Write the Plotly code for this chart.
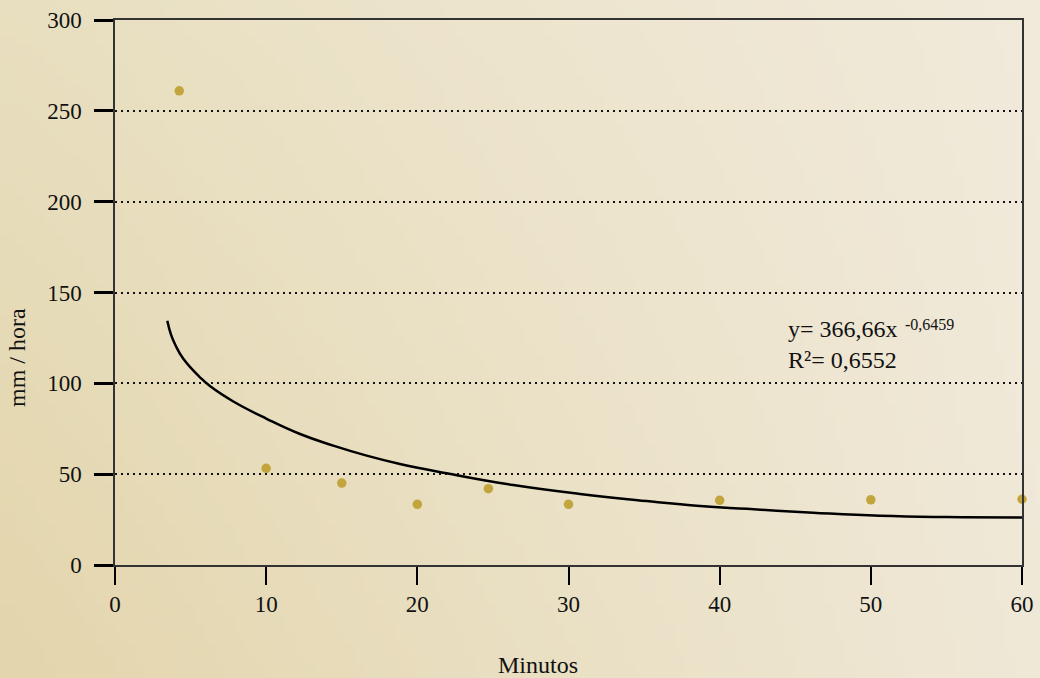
import base64
import struct
import zlib

import numpy as np
import plotly.graph_objects as go

# Measured rainfall intensity (mm/hora) against duration (minutos)
obs_minutes = [4.25, 10.0, 15.0, 20.0, 24.7, 30.0, 40.0, 50.0, 60.0]
obs_intensity = [261.0, 53.2, 45.1, 33.4, 42.0, 33.4, 35.6, 35.9, 36.2]

# Fitted trend curve, sampled along its length
trend_minutes = [3.46, 3.7, 4.0, 4.52, 5.62, 6.28, 7.83, 10.03, 12.24, 14.44, 16.65,
                 18.85, 21.94, 26.35, 30.76, 35.17, 38.7, 41.8, 46.19, 50.6, 55.0, 60.0]
trend_intensity = [134.5, 127.0, 121.0, 113.5, 103.3, 98.5, 90.0, 80.5, 72.1, 65.7, 60.2,
                   55.6, 50.5, 44.0, 39.1, 35.2, 32.5, 30.9, 28.8, 27.1, 26.4, 26.2]

x_ticks = [0, 10, 20, 30, 40, 50, 60]
y_ticks = [0, 50, 100, 150, 200, 250, 300]

equation_text = "y= 366,66x"
exponent_text = "-0,6459"
r2_text = "R²= 0,6552"

W, H = 1040, 678
ML, MR, MT, MB = 115, 18, 20, 113
PW, PH = W - ML - MR, H - MT - MB

FONT = "Liberation Serif"


def png_uri(pixels):
    h, w, _ = pixels.shape
    raw = b"".join(b"\x00" + pixels[r].tobytes() for r in range(h))

    def chunk(tag, data):
        body = tag + data
        return struct.pack(">I", len(data)) + body + struct.pack(">I", zlib.crc32(body) & 0xFFFFFFFF)

    png = (b"\x89PNG\r\n\x1a\n"
           + chunk(b"IHDR", struct.pack(">IIBBBBB", w, h, 8, 2, 0, 0, 0))
           + chunk(b"IDAT", zlib.compress(raw, 9))
           + chunk(b"IEND", b""))
    return "data:image/png;base64," + base64.b64encode(png).decode()


# Parchment-style backdrop: darker tan at lower left, pale cream at upper right
tl = np.array([232, 223, 192], float)
tr = np.array([241, 234, 219], float)
bl = np.array([227, 213, 172], float)
br = np.array([239, 232, 215], float)
gw, gh = 104, 68
u = np.linspace(0, 1, gw)[None, :, None]
v = np.linspace(0, 1, gh)[:, None, None]
grad = (1 - v) * ((1 - u) * tl + u * tr) + v * ((1 - u) * bl + u * br)
bg_uri = png_uri(np.clip(grad.round(), 0, 255).astype(np.uint8))

fig = go.Figure()

fig.add_trace(go.Scatter(
    x=trend_minutes, y=trend_intensity, mode="lines",
    line=dict(color="black", width=2.5, shape="spline", smoothing=1.3),
    hoverinfo="skip", showlegend=False,
))

fig.add_trace(go.Scatter(
    x=obs_minutes, y=obs_intensity, mode="markers",
    marker=dict(color="#c3a53d", size=9.5, line=dict(width=0)),
    cliponaxis=False, showlegend=False,
))


def px_x(p):
    return (p - ML) / PW


def px_y(p):
    return (H - MB - p) / PH


annotations = [
    dict(text=equation_text, x=px_x(786), y=px_y(329), xanchor="left", yanchor="middle",
         font=dict(family=FONT, size=24, color="#111")),
    dict(text=exponent_text, x=px_x(903), y=px_y(324), xanchor="left", yanchor="middle",
         font=dict(family=FONT, size=16, color="#111")),
    dict(text=r2_text, x=px_x(786), y=px_y(360), xanchor="left", yanchor="middle",
         font=dict(family=FONT, size=24, color="#111")),
    dict(text="Minutos", x=px_x(538), y=px_y(665), xanchor="center", yanchor="middle",
         font=dict(family=FONT, size=24, color="#111")),
    dict(text="mm / hora", x=px_x(17), y=px_y(358), xanchor="center", yanchor="middle",
         textangle=-90, font=dict(family=FONT, size=24, color="#111")),
]
for a in annotations:
    a.update(xref="paper", yref="paper", showarrow=False)

fig.update_layout(
    width=W, height=H,
    margin=dict(l=ML, r=MR, t=MT, b=MB, pad=0),
    paper_bgcolor="#ebe1c6",
    plot_bgcolor="rgba(0,0,0,0)",
    images=[dict(source=bg_uri, xref="paper", yref="paper",
                 x=-ML / PW, y=1 + MT / PH, sizex=W / PW, sizey=H / PH,
                 xanchor="left", yanchor="top", sizing="stretch", layer="below")],
    annotations=annotations,
    xaxis=dict(
        range=[0, 60], tickvals=x_ticks, ticktext=[str(t) for t in x_ticks],
        ticks="outside", ticklen=18, tickwidth=2, tickcolor="black",
        showline=True, linecolor="#333", linewidth=1.5, mirror=True,
        showgrid=False, zeroline=False, automargin=False,
        tickfont=dict(family=FONT, size=23, color="#111"),
    ),
    yaxis=dict(
        range=[0, 300], tickvals=y_ticks, ticktext=[str(t) for t in y_ticks],
        ticks="outside", ticklen=19, tickwidth=2.5, tickcolor="black",
        showline=True, linecolor="#333", linewidth=1.5, mirror=True,
        showgrid=True, gridcolor="#111", gridwidth=1.6, griddash="2px,4px",
        zeroline=False, ticklabelstandoff=8, automargin=False,
        tickfont=dict(family=FONT, size=23, color="#111"),
    ),
)

fig.write_html("out.html")
